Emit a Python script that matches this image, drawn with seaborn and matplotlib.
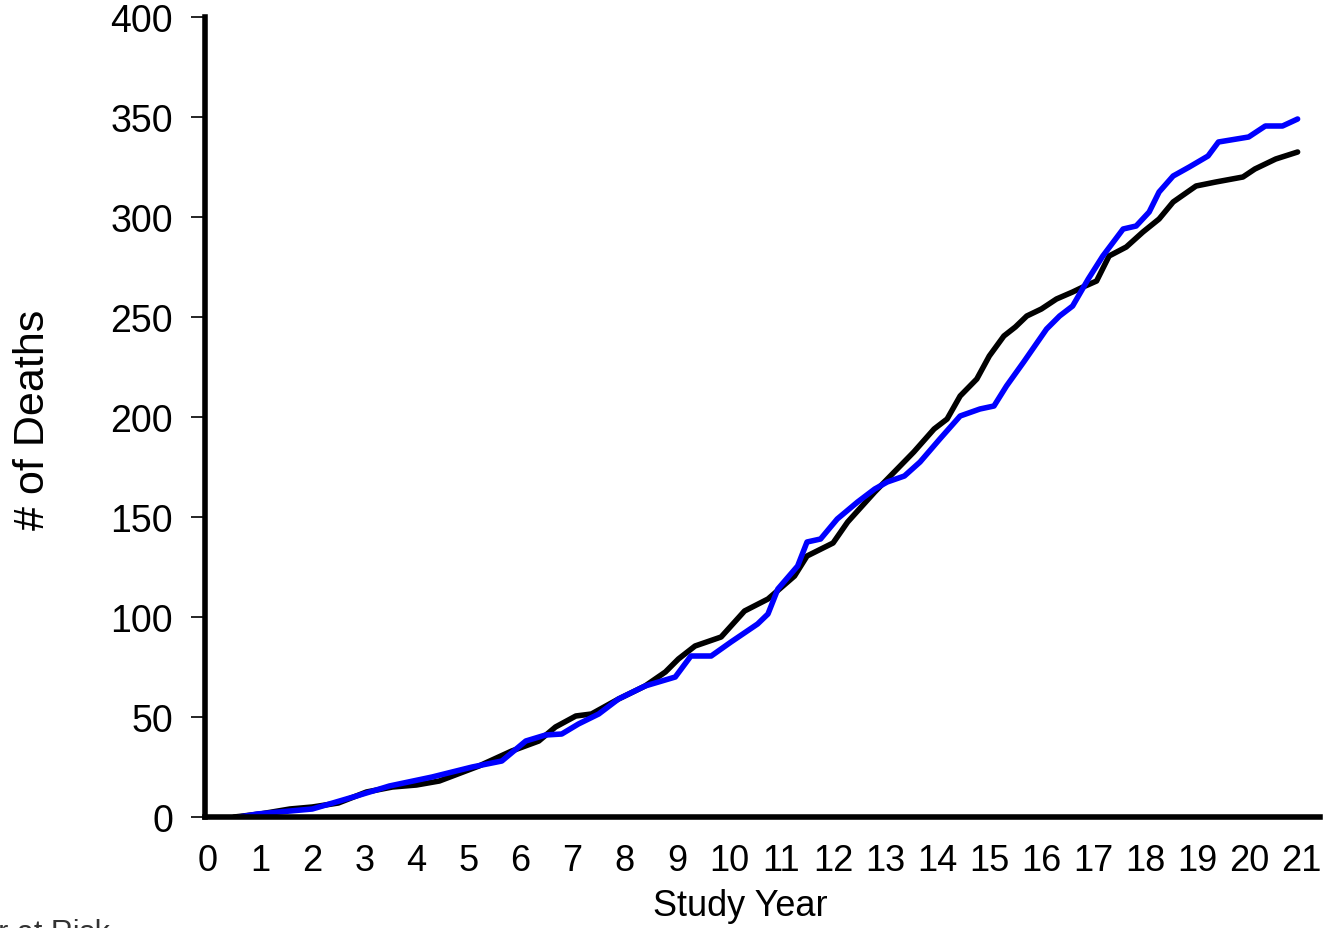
import matplotlib
matplotlib.use("Agg")
import matplotlib.pyplot as plt
import seaborn as sns
import pandas as pd

# ---- data ----
black_years = [0.5, 1.0, 1.57, 2.0, 2.5, 3.04, 3.54, 4.0, 4.44, 5.2, 5.83, 6.35, 6.67, 7.06,
               7.36, 7.88, 8.39, 8.78, 9.03, 9.35, 9.85, 10.3, 10.75, 11.26, 11.5, 12.0,
               12.28, 12.8, 13.1, 13.55, 13.94, 14.19, 14.44, 14.76, 15.0, 15.28, 15.5,
               15.72, 16.0, 16.29, 16.6, 16.8, 17.06, 17.3, 17.63, 17.95, 18.26, 18.53,
               18.97, 19.35, 19.87, 20.1, 20.5, 20.92]
black_deaths = [0, 1.5, 4, 5, 7, 12.5, 15, 16, 18, 25.5, 33, 38, 45, 50.5,
                51.5, 59, 65.5, 72.5, 79, 85.5, 90, 103, 109, 120.5, 130.5, 137,
                147.5, 162.5, 170.5, 182.5, 194, 199, 210.5, 219, 230.5, 240.5, 245,
                250.5, 254, 259, 262.5, 265, 268, 280.5, 285, 292.5, 299, 307.5,
                315.5, 317.5, 320, 324, 329, 332.5]

blue_years = [0.6, 0.94, 2.0, 2.85, 3.48, 4.3, 5.07, 5.64, 6.1, 6.48, 6.79, 7.11, 7.5, 7.88,
              8.39, 8.97, 9.27, 9.66, 10.04, 10.55, 10.75, 10.94, 11.32, 11.5, 11.76,
              12.08, 12.47, 12.8, 13.04, 13.37, 13.67, 14.05, 14.44, 14.82, 15.09, 15.33,
              15.66, 16.1, 16.35, 16.6, 16.9, 17.18, 17.57, 17.82, 18.07, 18.26, 18.53,
              18.84, 19.2, 19.4, 19.98, 20.3, 20.63, 20.92]
blue_deaths = [0, 1.5, 4, 10.5, 15.5, 20, 25, 28, 38, 41, 41.5, 46.5, 51.5, 59,
               65.5, 70, 80.5, 80.5, 87.5, 96.5, 101.5, 114, 125.5, 137.5, 139,
               149, 157.5, 164, 167.5, 170.5, 177.5, 189, 200.5, 204, 205.5, 215.5,
               227.5, 244, 250.5, 255.5, 269, 280.5, 294, 295.5, 302.5, 312.5, 320.5,
               325, 330.5, 337.5, 340, 345.5, 345.5, 349]

x_ticks = list(range(0, 22))
y_ticks = [0, 50, 100, 150, 200, 250, 300, 350, 400]
groups = ["Group A", "Group B"]
colors = ["#000000", "#0000ff"]

df = pd.concat([
    pd.DataFrame({"year": black_years, "deaths": black_deaths, "group": groups[0]}),
    pd.DataFrame({"year": blue_years, "deaths": blue_deaths, "group": groups[1]}),
], ignore_index=True)

sns.set_style("ticks")
plt.rcParams["font.family"] = ["Liberation Sans", "DejaVu Sans"]
plt.rcParams["text.color"] = "black"
plt.rcParams["axes.labelcolor"] = "black"

W, H = 1335, 929
fig = plt.figure(figsize=(W / 100, H / 100), dpi=100)
left, right, top, bottom = 205, 1320, 18, 818
ax = fig.add_axes([left / W, 1 - bottom / H, (right - left) / W, (bottom - top) / H])

sns.lineplot(data=df, x="year", y="deaths", hue="group", palette=colors,
             estimator=None, sort=False, linewidth=4.0, legend=False, ax=ax)

ax.set_xlim(-0.06, 21.35)
ax.set_ylim(0, 400)
ax.set_xticks(x_ticks)
ax.set_xticklabels([str(t) for t in x_ticks])
ax.set_yticks(y_ticks)
ax.set_yticklabels([str(t) for t in y_ticks])

for s in ["top", "right"]:
    ax.spines[s].set_visible(False)
for s in ["left", "bottom"]:
    ax.spines[s].set_linewidth(4)
    ax.spines[s].set_color("black")

ax.tick_params(axis="y", length=10, width=1.2, pad=13, labelsize=27, colors="black")
ax.tick_params(axis="x", length=0, pad=19, labelsize=26, colors="black")

ax.set_xlabel("Study Year", fontsize=26, va="center", ha="center")
ax.xaxis.set_label_coords((740 - left) / (right - left), (bottom - 907) / (bottom - top))
ax.set_ylabel("# of Deaths", fontsize=31, va="center", ha="center")
ax.yaxis.set_label_coords((33 - left) / (right - left), (bottom - 420) / (bottom - top))

fig.text(110 / W, 1 - 919 / H, "Number at Risk", ha="right", va="top",
         fontsize=22, color="#333333")

fig.savefig("out.png", dpi=100)
